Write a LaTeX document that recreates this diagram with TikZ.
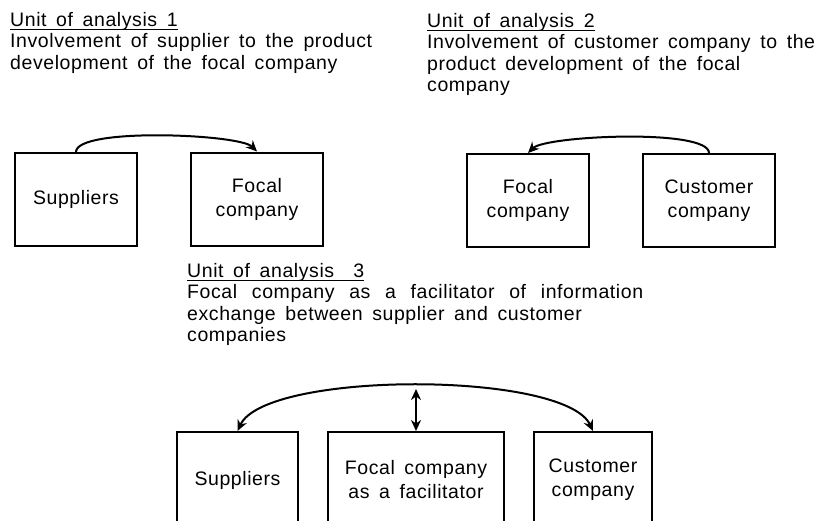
\documentclass[tikz,border=0pt]{standalone}
\usepackage{fontspec}
\setmainfont{Liberation Sans}[LetterSpace=3,WordSpace=1.6]
\usetikzlibrary{positioning,arrows.meta}
\newcommand\ulhead[1]{\setbox0\hbox{#1}\rlap{\vrule height -2.5pt depth 4pt width \wd0}\box0}
\newcommand\wideline[2]{{\spaceskip=0.3em plus 1fil\hbox to #1{#2}}}
\tikzset{
  every node/.style={font=\fontsize{19.5}{21.5}\selectfont},
  unit/.style={draw, line width=2pt, minimum width=122pt, minimum height=93pt, align=center, inner sep=0pt, font=\fontsize{19.5}{24}\selectfont},
  caption/.style={anchor=base west, align=left, inner sep=0pt},
  link/.style={line width=2pt, -{Stealth[length=11pt,width=10pt]}},
  both/.style={line width=2pt, {Stealth[length=11pt,width=10pt]}-{Stealth[length=11pt,width=10pt]}},
}
\begin{document}
\begin{tikzpicture}[x=1pt,y=-1pt]
\clip (0,0) rectangle (822,520);

% base anchor sits on the last line
\node[caption] (ua) at (10,69) {\ulhead{Unit of analysis 1}\\Involvement of supplier to the product\\development of the focal company};
\node[caption] (ub) at (427,91.5) {\ulhead{Unit of analysis 2}\\Involvement of customer company to the\\product development of the focal\\company};
\node[caption] (uc) at (187,341.5) {\ulhead{Unit of analysis \ 3}\\\wideline{456pt}{Focal company as a facilitator of information}\\exchange between supplier and customer\\companies};

\node[unit] (sa) at (76,199.5) {Suppliers};
\node[unit, minimum width=132pt] (fa) at (257,199) {Focal\\company};
\node[unit] (fb) at (528,200.5) {Focal\\company};
\node[unit, minimum width=132pt] (cb) at (709,200.5) {Customer\\company};

\node[unit, minimum width=121pt, minimum height=96pt] (sc) at (237.5,480) {Suppliers};
\node[unit, minimum width=176pt, minimum height=96pt] (fc) at (416,480) {Focal company\\as a facilitator};
\node[unit, minimum width=118pt, minimum height=96pt] (cc) at (593,480) {Customer\\company};
\coordinate (mid) at (416,389);

\draw[link] (sa.north) to[out=90, in=135, looseness=0.35] (fa.north);
\draw[link] (cb.north) to[out=90, in=45, looseness=0.35] (fb.north);
\draw[both] (sc.north) to[out=65, in=115, looseness=0.48] (cc.north);
\draw[both] (mid) -- (fc.north);

\end{tikzpicture}
\end{document}
